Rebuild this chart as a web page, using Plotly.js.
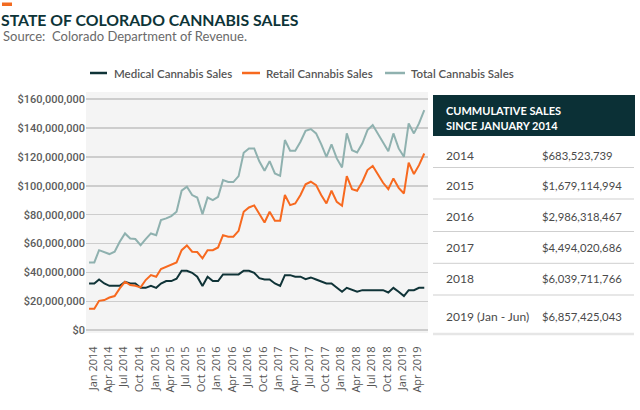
<!DOCTYPE html>
<html>
<head>
<meta charset="utf-8">
<script src="https://cdn.plot.ly/plotly-3.0.1.min.js"></script>
<style>
  html, body { margin: 0; padding: 0; background: #ffffff; }
  #chart { width: 640px; height: 410px; }
</style>
</head>
<body>
<div id="chart"></div>
<script>
// ---- Data ----
const months = [
  "2014-01-01","2014-02-01","2014-03-01","2014-04-01","2014-05-01","2014-06-01","2014-07-01","2014-08-01","2014-09-01","2014-10-01","2014-11-01","2014-12-01",
  "2015-01-01","2015-02-01","2015-03-01","2015-04-01","2015-05-01","2015-06-01","2015-07-01","2015-08-01","2015-09-01","2015-10-01","2015-11-01","2015-12-01",
  "2016-01-01","2016-02-01","2016-03-01","2016-04-01","2016-05-01","2016-06-01","2016-07-01","2016-08-01","2016-09-01","2016-10-01","2016-11-01","2016-12-01",
  "2017-01-01","2017-02-01","2017-03-01","2017-04-01","2017-05-01","2017-06-01","2017-07-01","2017-08-01","2017-09-01","2017-10-01","2017-11-01","2017-12-01",
  "2018-01-01","2018-02-01","2018-03-01","2018-04-01","2018-05-01","2018-06-01","2018-07-01","2018-08-01","2018-09-01","2018-10-01","2018-11-01","2018-12-01",
  "2019-01-01","2019-02-01","2019-03-01","2019-04-01","2019-05-01","2019-06-01"
];

const medicalSales = [
  32.3e6,32.3e6,35.1e6,32.3e6,30.7e6,30.7e6,30.7e6,33.5e6,32.3e6,32.3e6,29.3e6,29.3e6,
  30.7e6,29.3e6,32.3e6,34.0e6,34.0e6,35.6e6,41.1e6,41.1e6,39.7e6,37.0e6,30.5e6,37.0e6,
  34.0e6,34.0e6,38.6e6,38.6e6,38.6e6,38.6e6,41.1e6,41.1e6,39.7e6,36.0e6,35.1e6,35.1e6,
  32.3e6,30.7e6,38.1e6,38.1e6,37.0e6,37.0e6,35.3e6,36.5e6,35.1e6,33.5e6,32.3e6,32.3e6,
  29.3e6,26.6e6,29.3e6,27.7e6,26.6e6,27.7e6,27.7e6,27.7e6,27.7e6,27.7e6,26.1e6,29.3e6,
  26.6e6,23.6e6,27.7e6,27.7e6,29.3e6,29.3e6
];

const retailSales = [
  14.8e6,14.8e6,20.3e6,20.8e6,22.6e6,23.6e6,28.9e6,33.5e6,31.2e6,30.7e6,29.6e6,34.7e6,
  38.1e6,37.0e6,42.3e6,43.9e6,45.7e6,46.9e6,55.4e6,58.7e6,54.3e6,54.1e6,49.7e6,55.4e6,
  55.4e6,57.3e6,65.8e6,64.7e6,64.7e6,68.8e6,82.0e6,85.0e6,86.4e6,80.4e6,74.6e6,82.0e6,
  75.8e6,75.8e6,93.6e6,86.6e6,87.8e6,93.6e6,101.0e6,102.8e6,100.5e6,93.6e6,87.8e6,96.6e6,
  88.9e6,86.2e6,106.7e6,97.7e6,96.6e6,102.8e6,110.9e6,113.7e6,107.4e6,102.1e6,97.7e6,105.1e6,
  98.6e6,94.7e6,116.0e6,108.1e6,114.3e6,122.4e6
];

const totalSales = [
  46.9e6,46.9e6,55.4e6,53.8e6,52.7e6,54.3e6,61.2e6,67.0e6,63.5e6,63.1e6,58.9e6,63.1e6,
  67.0e6,65.8e6,76.2e6,77.4e6,79.0e6,82.0e6,96.6e6,99.3e6,93.6e6,91.9e6,80.4e6,91.9e6,
  90.1e6,92.4e6,103.9e6,102.6e6,102.6e6,106.7e6,122.9e6,125.9e6,125.9e6,117.0e6,110.4e6,117.1e6,
  108.6e6,106.9e6,131.7e6,124.3e6,124.3e6,130.5e6,138.1e6,139.3e6,136.3e6,128.9e6,120.1e6,128.7e6,
  119.0e6,112.7e6,136.3e6,124.7e6,123.1e6,129.4e6,138.6e6,142.1e6,136.3e6,130.5e6,124.0e6,136.3e6,
  125.9e6,120.1e6,143.2e6,136.3e6,143.2e6,152.5e6
];

const seriesNames = ["Medical Cannabis Sales", "Retail Cannabis Sales", "Total Cannabis Sales"];

const tableHeader = ["CUMMULATIVE SALES", "SINCE JANUARY 2014"];
const tableYears = ["2014", "2015", "2016", "2017", "2018", "2019 (Jan - Jun)"];
const tableValues = ["$683,523,739", "$1,679,114,994", "$2,986,318,467", "$4,494,020,686", "$6,039,711,766", "$6,857,425,043"];

// ---- Layout helpers (pixel -> paper) ----
const W = 640, H = 410;
const M = { l: 86, r: 212, t: 92, b: 77 };
const PW = W - M.l - M.r, PH = H - M.t - M.b;
const px = x => (x - M.l) / PW;
const py = y => (H - M.b - y) / PH;

const colors = ["#0f3337", "#f7691f", "#8fb1af"];
const textGray = "#5b5b5b";

const traces = [medicalSales, retailSales, totalSales].map((vals, i) => ({
  type: "scatter",
  mode: "lines",
  name: seriesNames[i],
  x: months,
  y: vals,
  line: { color: colors[i], width: 2 },
  hoverinfo: "skip",
  showlegend: false
}));

// Legend (manual, to match compact sample lines)
const legendLine = [[90, 107], [242, 260], [385, 405]];
const legendText = [113, 265, 410];
const legendY = 73;

// Table rows
const rowCenters = [155, 185.5, 216, 247.3, 278.3, 316];
const sepLines = [167.5, 199, 231.5, 263.3, 295];

const shapes = [
  { type: "rect", xref: "paper", yref: "paper", x0: px(2), x1: px(12), y0: py(2.5), y1: py(6), fillcolor: "#f26b21", line: { width: 0 } },
  { type: "rect", xref: "paper", yref: "paper", x0: px(433), x1: px(635), y0: py(95), y1: py(136), fillcolor: "#0b3036", line: { width: 0 } }
];
sepLines.forEach(y => shapes.push({
  type: "line", xref: "paper", yref: "paper", x0: px(433), x1: px(634), y0: py(y), y1: py(y),
  line: { color: "#cfcfcf", width: 1 }
}));
shapes.push({ type: "line", xref: "paper", yref: "paper", x0: px(433), x1: px(634), y0: py(334), y1: py(334),
  line: { color: "#e6e6e6", width: 2.5 } });
legendLine.forEach((seg, i) => shapes.push({
  type: "line", xref: "paper", yref: "paper", x0: px(seg[0]), x1: px(seg[1]), y0: py(legendY), y1: py(legendY),
  line: { color: colors[i], width: 2.5 }
}));

const annotations = [
  { xref: "paper", yref: "paper", x: px(1), y: py(36.5), xanchor: "left", yanchor: "middle", showarrow: false,
    text: "Source:  Colorado Department of Revenue.", font: { family: "Lato", size: 13, color: "#6a6a6a" } },
  { xref: "paper", yref: "paper", x: px(444), y: py(110.5), xanchor: "left", yanchor: "middle", showarrow: false,
    text: tableHeader[0], font: { family: "Lato", size: 11, color: "#ffffff", weight: 700 } },
  { xref: "paper", yref: "paper", x: px(444), y: py(125.5), xanchor: "left", yanchor: "middle", showarrow: false,
    text: tableHeader[1], font: { family: "Lato", size: 11, color: "#ffffff", weight: 700 } }
];
seriesNames.forEach((nm, i) => annotations.push({
  xref: "paper", yref: "paper", x: px(legendText[i] - 1), y: py(legendY), xanchor: "left", yanchor: "middle",
  showarrow: false, text: nm, font: { family: "Lato", size: 11.5, color: "#555555", weight: 600 }
}));
tableYears.forEach((yr, i) => {
  annotations.push({ xref: "paper", yref: "paper", x: px(444), y: py(rowCenters[i]), xanchor: "left", yanchor: "middle",
    showarrow: false, text: yr, font: { family: "Lato", size: 12, color: "#4a4a4a" } });
  annotations.push({ xref: "paper", yref: "paper", x: px(540), y: py(rowCenters[i]), xanchor: "left", yanchor: "middle",
    showarrow: false, text: tableValues[i], font: { family: "Lato", size: 11.3, color: "#4a4a4a" } });
});

const layout = {
  width: W, height: H,
  margin: M,
  paper_bgcolor: "#ffffff",
  plot_bgcolor: "#f4f4f4",
  font: { family: "Lato", color: textGray },
  title: {
    text: "STATE OF COLORADO CANNABIS SALES",
    xref: "container", yref: "container",
    x: 1 / W, xanchor: "left",
    y: 1 - 20 / H, yanchor: "middle",
    font: { family: "Lato", size: 15.8, color: "#0d3438", weight: 700 }
  },
  showlegend: false,
  xaxis: {
    type: "date",
    range: ["2013-12-14", "2019-06-23"],
    tick0: "2014-01-01",
    dtick: "M3",
    tickformat: "%b %Y",
    tickangle: -90,
    ticks: "outside",
    ticklen: 8,
    tickcolor: "rgba(0,0,0,0)",
    ticklabelshift: 4,
    tickfont: { family: "Open Sans", size: 11, color: "#555555" },
    showgrid: false,
    zeroline: false,
    showline: false,
    fixedrange: true
  },
  yaxis: {
    range: [-2e6, 165e6],
    dtick: 20e6,
    tick0: 0,
    tickprefix: "$",
    tickformat: ",.0f",
    tickfont: { family: "Roboto", size: 11, color: "#5b5b5b", weight: 500 },
    showgrid: true,
    gridcolor: "#cdcdcd",
    gridwidth: 1.5,
    zeroline: false,
    showline: false,
    ticks: "",
    fixedrange: true
  },
  shapes: shapes,
  annotations: annotations
};

Plotly.newPlot("chart", traces, layout, { displayModeBar: false, staticPlot: true });
</script>
</body>
</html>
